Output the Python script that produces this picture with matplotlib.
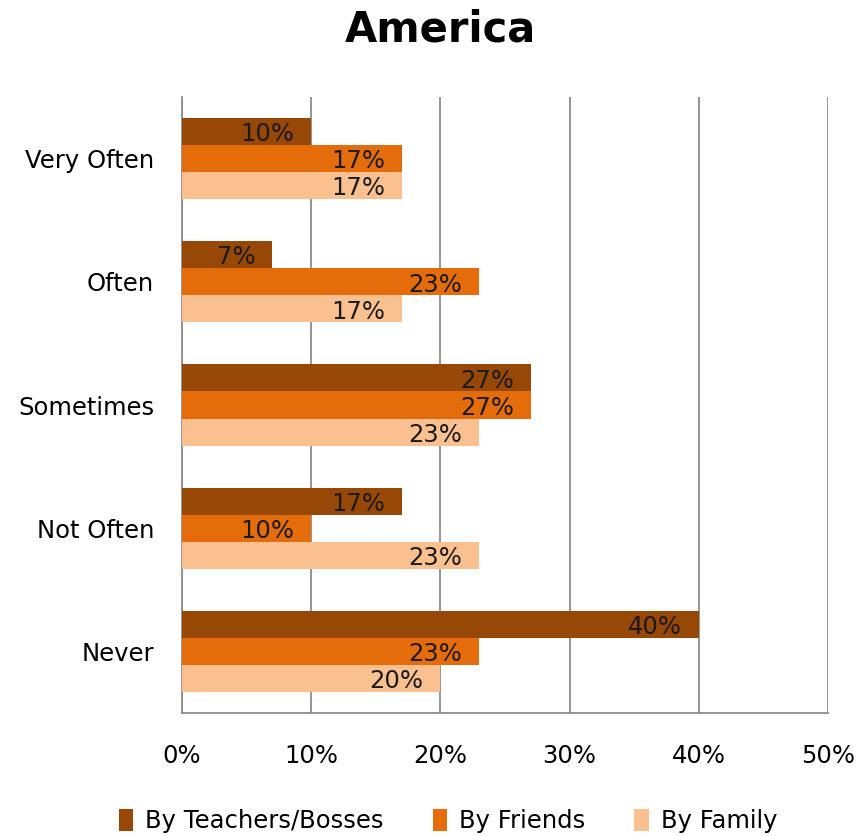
import matplotlib
matplotlib.use("Agg")
import matplotlib.pyplot as plt
import numpy as np

categories = ["Very Often", "Often", "Sometimes", "Not Often", "Never"]
series_names = ["By Teachers/Bosses", "By Friends", "By Family"]
teachers = [10, 7, 27, 17, 40]
friends = [17, 23, 27, 10, 23]
family = [17, 17, 23, 23, 20]
colors = ["#974706", "#E46C0A", "#FAC090"]
x_ticks = [0, 10, 20, 30, 40, 50]

plt.rcParams["font.family"] = ["DejaVu Sans"]
fs = 17.5

fig = plt.figure(figsize=(8.6, 8.36), dpi=100)
ax = fig.add_axes([182 / 860, 1 - 713 / 836, (828 - 182) / 860, (713 - 97) / 836])

y = np.arange(len(categories))
h = 0.22
for i, (vals, col, name) in enumerate(zip([teachers, friends, family], colors, series_names)):
    pos = y + (i - 1) * h
    bars = ax.barh(pos, vals, height=h, color=col, label=name, zorder=3)
    for b, v in zip(bars, vals):
        ax.annotate(f"{v}%", (v, b.get_y() + b.get_height() / 2),
                    xytext=(-12, -2), textcoords="offset points",
                    ha="right", va="center", fontsize=fs, color="#1a1a1a", zorder=4)

ax.set_xlim(0, 50)
ax.set_ylim(len(categories) - 0.5, -0.5)
ax.set_xticks(x_ticks)
ax.set_xticklabels([f"{t}%" for t in x_ticks], fontsize=fs)
ax.set_yticks(y)
ax.set_yticklabels(categories, fontsize=fs)
ax.tick_params(axis="x", length=0, pad=22)
ax.tick_params(axis="y", length=0, pad=20)
ax.grid(axis="x", color="#8c8c8c", linewidth=1.3, zorder=0)
for s in ["top", "right"]:
    ax.spines[s].set_visible(False)
for s in ["left", "bottom"]:
    ax.spines[s].set_color("#8c8c8c")
    ax.spines[s].set_linewidth(1.3)

fig.text(440 / 860, 1 - 30 / 836, "America", ha="center", va="center",
         fontsize=30, fontweight="bold")

fig.legend(loc="center", bbox_to_anchor=(448 / 860, 1 - 821 / 836), ncol=3,
           frameon=False, fontsize=fs, handlelength=0.6, handleheight=1.0,
           handletextpad=0.5, columnspacing=2.0)

fig.savefig("out.png", dpi=100, facecolor="white")
